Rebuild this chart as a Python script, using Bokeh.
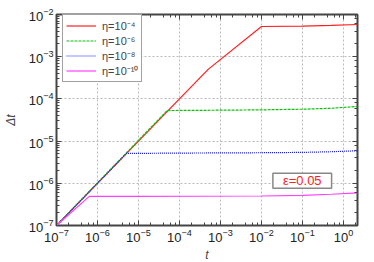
from bokeh.plotting import figure
from bokeh.models import Legend, LegendItem, Label, LogAxis, LogTicker, CustomJSTickFormatter
from bokeh.embed import file_html
from bokeh.resources import INLINE

# data
t_e4 = [1e-7, 5e-4, 1e-2, 1e-1, 0.5, 2.2]
dt_e4 = [1e-7, 5e-4, 5.2e-3, 5.3e-3, 5.5e-3, 5.8e-3]
t_e6 = [1e-7, 5e-5, 1e-3, 1e-2, 1e-1, 0.5, 2.2]
dt_e6 = [1e-7, 5.3e-5, 5.4e-5, 5.5e-5, 5.7e-5, 6.0e-5, 6.6e-5]
t_e8 = [1e-7, 5.1e-6, 1e-4, 1e-2, 1e-1, 0.5, 2.2]
dt_e8 = [1e-7, 5.1e-6, 5.2e-6, 5.3e-6, 5.4e-6, 5.6e-6, 5.9e-6]
t_e10 = [1e-7, 6.3e-7, 1e-5, 1e-2, 1e-1, 0.5, 2.2]
dt_e10 = [1e-7, 4.9e-7, 4.9e-7, 5.0e-7, 5.2e-7, 5.5e-7, 5.9e-7]

labels = ["η=10⁻⁴", "η=10⁻⁶", "η=10⁻⁸", "η=10⁻¹⁰"]
colors = ["#ff2020", "#10c010", "#2020ff", "#ff40ff"]
dashes = ["solid", "3 1", "1 1", "solid"]
annot = "ε=0.05"
annot_t, annot_dt = 0.019, 7.6e-7

FONT = "Liberation Sans"

p = figure(x_axis_type="log", y_axis_type="log",
           x_range=(1e-7, 2.2), y_range=(1e-7, 1e-2),
           frame_width=301, frame_height=211,
           output_backend="svg", toolbar_location=None,
           min_border_left=56, min_border_right=4, min_border_top=14, min_border_bottom=6)
p.outline_line_color = "#444444"
p.outline_line_width = 2

series = [(t_e4, dt_e4), (t_e6, dt_e6), (t_e8, dt_e8), (t_e10, dt_e10)]
rends = []
for (tx, ty), c, d in zip(series, colors, dashes):
    r = p.line(tx, ty, line_color=c, line_width=1.2, line_dash=d)
    rends.append(r)

for ax in (p.xaxis[0], p.yaxis[0]):
    ax.major_tick_in = 5
    ax.major_tick_out = 0
    ax.minor_tick_in = 3
    ax.minor_tick_out = 0
    ax.axis_line_color = None
    ax.major_label_text_font = FONT
    ax.major_label_text_font_size = "13px"
    ax.major_label_text_color = "#222222"
    ax.axis_label_text_font = FONT
    ax.axis_label_text_font_size = "12px"
    ax.axis_label_text_font_style = "italic"
    ax.major_tick_line_color = "#444444"
    ax.minor_tick_line_color = "#444444"

p.xaxis.axis_label = "t"
p.yaxis.axis_label = "Δt"
p.xaxis.major_label_standoff = 3
p.yaxis.major_label_standoff = 3
p.xaxis.axis_label_standoff = 3
p.yaxis.axis_label_standoff = 8
p.xaxis.ticker = LogTicker(desired_num_ticks=8)

blank = CustomJSTickFormatter(code="return '';")
for loc in ("right", "above"):
    a = LogAxis(major_tick_in=5, major_tick_out=0, minor_tick_in=3, minor_tick_out=0,
                axis_line_color=None, formatter=blank, major_label_standoff=0,
                major_tick_line_color="#444444", minor_tick_line_color="#444444")
    if loc == "above":
        a.ticker = LogTicker(desired_num_ticks=8)
    p.add_layout(a, loc)

p.grid.grid_line_color = "#bbbbbb"
p.grid.grid_line_dash = "2 2"
p.xgrid.ticker = LogTicker(desired_num_ticks=8)

legend = Legend(items=[LegendItem(label=l, renderers=[r]) for l, r in zip(labels, rends)],
                location=(6, 211 - 68), label_text_font=FONT, label_text_font_size="11px",
                border_line_color="#444444", border_line_width=1.5,
                margin=0, padding=3, spacing=0, label_height=13, glyph_height=13,
                glyph_width=30, label_standoff=6, background_fill_alpha=1)
p.add_layout(legend)

lab = Label(x=annot_t, y=annot_dt, text=annot, text_color="#ff2020", text_font=FONT,
            text_font_size="13px", border_line_color="#888888", border_line_width=1.5,
            background_fill_color="white", padding=(10, 0))
p.add_layout(lab)

open("out.html", "w").write(file_html(p, INLINE))
